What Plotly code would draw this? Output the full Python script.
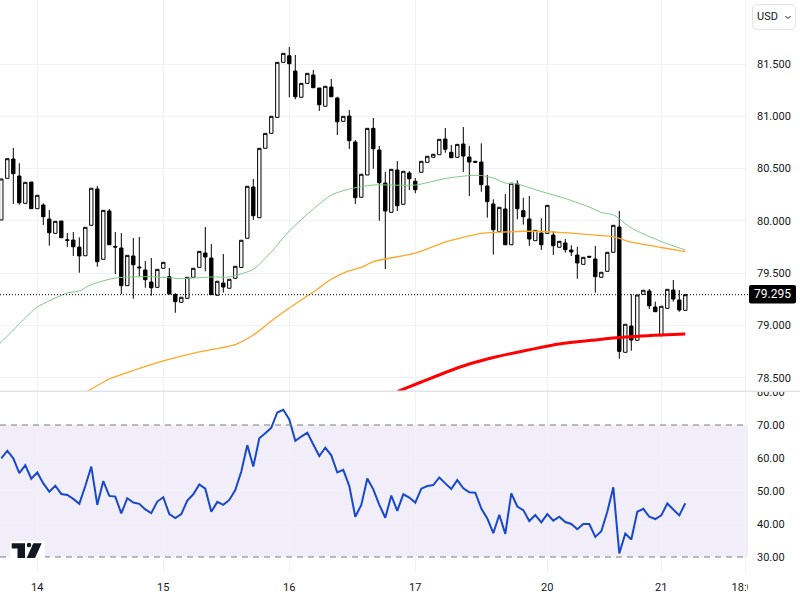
import plotly.graph_objects as go

candle_open = [80.009, 80.407, 80.592, 80.429, 80.168, 80.372, 80.117, 80.152, 80.018, 79.881, 79.999, 79.820,
               79.817, 79.750, 79.667, 79.958, 80.305, 79.633, 80.095, 79.756, 79.741, 79.381, 79.665, 79.560,
               79.531, 79.416, 79.365, 79.547, 79.467, 79.298, 79.222, 79.260, 79.461, 79.556, 79.693, 79.645,
               79.289, 79.406, 79.356, 79.451, 79.555, 79.834, 80.324, 80.031, 80.694, 80.837, 80.990, 81.516,
               81.579, 81.433, 81.182, 81.315, 81.395, 81.271, 81.096, 81.280, 81.175, 80.952, 81.003, 80.754,
               80.226, 80.439, 80.885, 80.678, 80.362, 80.082, 80.487, 80.159, 80.458, 80.379, 80.465, 80.560,
               80.608, 80.633, 80.783, 80.656, 80.608, 80.735, 80.611, 80.570, 80.563, 80.334, 80.162, 79.897,
               80.114, 79.772, 80.353, 80.098, 80.018, 79.811, 79.884, 79.881, 79.865, 79.748, 79.789, 79.722,
               79.674, 79.585, 79.662, 79.636, 79.461, 79.518, 79.700, 79.942, 78.744, 78.995, 78.859, 79.298,
               79.330, 79.177, 78.903, 79.164, 79.339, 79.244, 79.145]
candle_high = [80.401, 80.595, 80.697, 80.551, 80.369, 80.372, 80.245, 80.168, 80.104, 79.996, 79.999, 79.884,
               79.894, 79.843, 79.939, 80.312, 80.334, 80.101, 80.114, 79.894, 79.884, 79.671, 79.837, 79.846,
               79.617, 79.645, 79.537, 79.604, 79.550, 79.308, 79.270, 79.461, 79.547, 79.709, 79.942, 79.779,
               79.423, 79.684, 79.442, 79.566, 79.815, 80.331, 80.401, 80.694, 80.837, 81.000, 81.516, 81.602,
               81.663, 81.586, 81.315, 81.411, 81.443, 81.271, 81.287, 81.357, 81.187, 81.000, 81.060, 80.773,
               80.446, 80.885, 80.984, 80.716, 80.470, 80.493, 80.573, 80.474, 80.477, 80.410, 80.570, 80.618,
               80.637, 80.780, 80.888, 80.726, 80.732, 80.898, 80.716, 80.570, 80.742, 80.439, 80.207, 80.130,
               80.257, 80.360, 80.388, 80.222, 80.238, 79.910, 80.025, 80.149, 79.903, 79.805, 79.827, 79.767,
               79.753, 79.652, 79.662, 79.760, 79.509, 79.700, 79.958, 80.095, 79.012, 79.298, 79.292, 79.337,
               79.349, 79.228, 79.184, 79.346, 79.435, 79.339, 79.295]
candle_low = [80.009, 80.407, 80.162, 80.155, 80.168, 80.117, 80.117, 79.961, 79.763, 79.881, 79.839, 79.750,
              79.665, 79.505, 79.667, 79.958, 79.562, 79.633, 79.772, 79.492, 79.301, 79.381, 79.256, 79.467,
              79.361, 79.285, 79.365, 79.547, 79.301, 79.122, 79.222, 79.260, 79.461, 79.556, 79.518, 79.295,
              79.289, 79.314, 79.356, 79.451, 79.555, 79.834, 80.009, 80.031, 80.694, 80.837, 80.990, 81.516,
              81.182, 81.163, 81.182, 81.315, 81.273, 81.051, 81.096, 81.187, 80.821, 80.952, 80.687, 80.162,
              80.226, 80.439, 80.499, 80.002, 79.540, 80.082, 80.095, 80.159, 80.295, 80.264, 80.465, 80.560,
              80.608, 80.633, 80.652, 80.604, 80.608, 80.468, 80.238, 80.560, 80.279, 80.031, 79.677, 79.897,
              79.772, 79.772, 80.015, 79.964, 79.760, 79.811, 79.722, 79.881, 79.674, 79.748, 79.696, 79.665,
              79.447, 79.585, 79.654, 79.314, 79.461, 79.518, 79.700, 78.682, 78.744, 78.759, 78.859, 79.298,
              79.158, 79.132, 78.903, 79.164, 79.228, 79.132, 79.145]
candle_close = [80.401, 80.595, 80.451, 80.174, 80.369, 80.117, 80.245, 80.040, 79.887, 79.996, 79.839, 79.814,
                79.753, 79.665, 79.939, 80.312, 79.610, 80.101, 79.772, 79.750, 79.381, 79.671, 79.581, 79.552,
                79.438, 79.361, 79.537, 79.604, 79.301, 79.228, 79.270, 79.461, 79.547, 79.709, 79.655, 79.295,
                79.423, 79.368, 79.442, 79.566, 79.815, 80.331, 80.050, 80.694, 80.837, 81.000, 81.516, 81.602,
                81.503, 81.187, 81.315, 81.411, 81.273, 81.111, 81.287, 81.187, 80.948, 81.000, 80.767, 80.222,
                80.446, 80.885, 80.690, 80.365, 80.095, 80.493, 80.145, 80.474, 80.403, 80.298, 80.570, 80.618,
                80.637, 80.780, 80.685, 80.604, 80.732, 80.620, 80.563, 80.560, 80.346, 80.184, 79.916, 80.130,
                79.772, 80.360, 80.117, 80.040, 79.827, 79.910, 79.772, 80.149, 79.763, 79.805, 79.725, 79.703,
                79.598, 79.652, 79.654, 79.467, 79.509, 79.700, 79.958, 78.753, 79.012, 78.861, 79.292, 79.337,
                79.189, 79.132, 79.184, 79.346, 79.253, 79.148, 79.295]

green_idx = [-1, 0, 4, 6, 11, 13, 15, 19, 25, 30, 35, 38, 42, 45, 48, 52, 55, 58, 62, 69, 74, 78, 80, 82, 84, 86,
             90, 94, 98, 100, 102, 105, 108, 110, 114]
green_ma = [78.794, 78.842, 79.072, 79.177, 79.311, 79.330, 79.392, 79.454, 79.467, 79.449, 79.464, 79.464, 79.537,
            79.703, 79.903, 80.114, 80.248, 80.305, 80.343, 80.343, 80.405, 80.434, 80.434, 80.410, 80.362, 80.353,
            80.281, 80.214, 80.133, 80.080, 80.059, 79.932, 79.851, 79.803, 79.722]
orange_idx = [14, 15, 18, 22, 27, 33, 39, 42, 45, 48, 52, 55, 58, 60, 62, 69, 74, 78, 80, 84, 87, 93, 99, 102, 105,
              110, 114]
orange_ma = [78.36, 78.393, 78.489, 78.57, 78.661, 78.747, 78.818, 78.909, 79.043, 79.167, 79.320, 79.442, 79.524,
             79.555, 79.610, 79.693, 79.798, 79.856, 79.881, 79.894, 79.901, 79.891, 79.865, 79.849, 79.798, 79.746,
             79.706]
red_idx = [66, 70, 74, 78, 82, 87, 93, 99, 103, 110, 114]
red_ma = [78.369, 78.460, 78.551, 78.632, 78.694, 78.756, 78.823, 78.862, 78.885, 78.909, 78.919]

rsi = [59.9, 62.2, 59.9, 55.4, 57.8, 53.7, 55.6, 52.3, 49.8, 51.6, 49.1, 48.8, 47.6, 46.1, 51.5, 57.4, 45.8, 53.0,
       48.5, 48.3, 43.2, 47.8, 46.5, 46.1, 44.4, 43.3, 46.8, 48.1, 43.0, 41.8, 43.0, 47.1, 49.0, 52.0, 50.7, 43.7,
       46.7, 45.8, 47.3, 50.3, 55.9, 63.9, 57.4, 66.0, 67.5, 69.2, 73.8, 74.6, 71.7, 65.2, 66.5, 67.7, 64.1, 60.6,
       63.1, 60.8, 55.6, 56.4, 51.5, 42.2, 45.8, 53.8, 50.5, 45.8, 41.9, 48.6, 44.0, 49.0, 48.0, 46.5, 50.7, 51.5,
       51.8, 54.1, 52.3, 50.6, 53.3, 50.8, 49.6, 49.5, 44.7, 41.7, 37.2, 42.8, 37.0, 49.3, 45.3, 44.2, 40.9, 42.7,
       40.5, 43.0, 41.0, 42.2, 40.6, 40.0, 38.4, 40.0, 40.0, 36.1, 37.8, 43.7, 51.1, 31.1, 37.1, 35.3, 43.7, 44.6,
       42.2, 41.5, 42.6, 46.2, 44.4, 42.6, 46.3]

tick_idx = [6, 27, 48, 69, 91, 110, 124]
tick_text = ["14", "15", "16", "17", "20", "21", "18:00"]
price_ticks = [78.5, 79.0, 79.5, 80.0, 80.5, 81.0, 81.5]
rsi_ticks = [30, 40, 50, 60, 70, 80]
last_price = 79.295

WIDTH, HEIGHT = 800, 600
GRID = "#f1f2f5"
TEXT = "#131722"
FONT = "Roboto"
idx = list(range(len(candle_open)))


def px(x):
    return x / WIDTH


def py(y):
    return 1 - y / HEIGHT


def rrect(x0, y0, x1, y1, r):
    # rounded box in paper coords, given in screen pixels
    p = lambda x, y: f"{px(x)},{py(y)}"
    return (f"M {p(x0 + r, y0)} L {p(x1 - r, y0)} Q {p(x1, y0)} {p(x1, y0 + r)} L {p(x1, y1 - r)} "
            f"Q {p(x1, y1)} {p(x1 - r, y1)} L {p(x0 + r, y1)} Q {p(x0, y1)} {p(x0, y1 - r)} L {p(x0, y0 + r)} "
            f"Q {p(x0, y0)} {p(x0 + r, y0)} Z")


def poly(points):
    return "M " + " L ".join(f"{px(x)},{py(y)}" for x, y in points) + " Z"


def paper_shape(path, fill, line="rgba(0,0,0,0)", width=0):
    return dict(type="path", xref="paper", yref="paper", path=path, fillcolor=fill,
                line=dict(color=line, width=width), layer="above")


fig = go.Figure()

fig.add_trace(go.Scatter(x=green_idx, y=green_ma, mode="lines", xaxis="x", yaxis="y",
                         line=dict(color="#81c784", width=1, shape="spline", smoothing=0.6)))
fig.add_trace(go.Scatter(x=orange_idx, y=orange_ma, mode="lines", xaxis="x", yaxis="y",
                         line=dict(color="#ffa726", width=1.3, shape="spline", smoothing=0.6)))
fig.add_trace(go.Scatter(x=red_idx, y=red_ma, mode="lines", xaxis="x", yaxis="y",
                         line=dict(color="#ff0000", width=3, shape="spline", smoothing=0.6)))
fig.add_trace(go.Candlestick(x=idx, open=candle_open, high=candle_high, low=candle_low, close=candle_close,
                             increasing=dict(line=dict(color="#000000", width=1), fillcolor="#ffffff"),
                             decreasing=dict(line=dict(color="#000000", width=1), fillcolor="#000000"),
                             whiskerwidth=0, xaxis="x", yaxis="y"))
fig.add_trace(go.Scatter(x=idx, y=rsi, mode="lines", line=dict(color="#1848cc", width=2), xaxis="x2", yaxis="y2"))

shapes = [
    # rsi band and its bounds
    dict(type="rect", xref="x2 domain", yref="y2", x0=0, x1=1, y0=30, y1=70, fillcolor="rgba(126,87,194,0.1)",
         line=dict(width=0), layer="below"),
    dict(type="line", xref="x2 domain", yref="y2", x0=0, x1=1, y0=70, y1=70, line=dict(color="#787b86", width=1, dash="6px,5px")),
    dict(type="line", xref="x2 domain", yref="y2", x0=0, x1=1, y0=30, y1=30, line=dict(color="#787b86", width=1, dash="6px,5px")),
    # last price line
    dict(type="line", xref="x domain", yref="y", x0=0, x1=1, y0=last_price, y1=last_price,
         line=dict(color="#000000", width=1, dash="1px,2px")),
    # clip tick labels at the pane edges
    dict(type="rect", xref="paper", yref="paper", x0=px(748), x1=1, y0=py(391), y1=py(383.5), fillcolor="#ffffff",
         line=dict(width=0), layer="above"),
    dict(type="rect", xref="paper", yref="paper", x0=px(748), x1=px(770), y0=py(600), y1=py(574), fillcolor="#ffffff",
         line=dict(width=0), layer="above"),
    # separator
    dict(type="line", xref="paper", yref="paper", x0=0, x1=1, y0=py(391.3), y1=py(391.3), line=dict(color="#e0e3eb", width=1.5), layer="above"),
    # price tag
    paper_shape(rrect(749, 285, 796, 303.5, 2), "#000000"),
    # USD button
    paper_shape(rrect(752.5, 4.5, 795.5, 29.5, 5), "#ffffff", "#e0e3eb", 1),
    dict(type="path", xref="paper", yref="paper", layer="above", line=dict(color=TEXT, width=1),
         path=f"M {px(785.5)},{py(16)} L {px(788)},{py(18.5)} L {px(790.5)},{py(16)}"),
    # logo
    paper_shape(poly([(10, 541), (45, 541), (45, 558), (10, 558)]), "#ffffff"),
    paper_shape(poly([(11.7, 543.3), (25, 543.3), (25, 558), (17.5, 558), (17.5, 548.5), (11.7, 548.5)]), TEXT),
    paper_shape(poly([(33.3, 543.3), (41.7, 543.3), (35, 558), (26.7, 558)]), TEXT),
    dict(type="circle", xref="paper", yref="paper", x0=px(26.7), x1=px(31.3), y0=py(547.3), y1=py(542.7),
         fillcolor=TEXT, line=dict(width=0), layer="above"),
]

annotations = [
    dict(text=f"{last_price:.3f}", xref="paper", yref="paper", x=px(772.5), y=py(294.3), showarrow=False,
         font=dict(family=FONT, size=12, color="#ffffff"), xanchor="center", yanchor="middle"),
    dict(text="USD", xref="paper", yref="paper", x=px(767), y=py(17), showarrow=False,
         font=dict(family=FONT, size=11, color=TEXT), xanchor="center", yanchor="middle"),
]

fig.update_layout(
    width=WIDTH, height=HEIGHT, autosize=False,
    margin=dict(l=0, r=0, t=0, b=0),
    paper_bgcolor="#ffffff", plot_bgcolor="#ffffff",
    showlegend=False, hovermode=False, boxgap=0.2,
    font=dict(family=FONT, size=11, color=TEXT),
    shapes=shapes, annotations=annotations,
    xaxis=dict(domain=[0, 748 / WIDTH], range=[-0.217, 124.45], anchor="y", tickvals=tick_idx, showticklabels=False,
               showgrid=True, gridcolor=GRID, gridwidth=1, zeroline=False, rangeslider=dict(visible=False), ticks="",
               automargin=False),
    xaxis2=dict(domain=[0, 748 / WIDTH], range=[-0.217, 124.45], anchor="y2", tickvals=tick_idx, ticktext=tick_text,
                showgrid=True, gridcolor=GRID, gridwidth=1, zeroline=False, ticks="", ticklabelstandoff=7,
                automargin=False),
    yaxis=dict(domain=[py(391), 1], range=[78.374, 82.112], side="right", anchor="x", tickvals=price_ticks,
               tickformat=".3f", showgrid=True, gridcolor=GRID, zeroline=False, ticks="", ticklabelstandoff=8,
               automargin=False),
    yaxis2=dict(domain=[py(572), py(392)], range=[25.45, 80], side="right", anchor="x2", tickvals=rsi_ticks,
                tickformat=".2f", showgrid=True, gridcolor=GRID, zeroline=False, ticks="", ticklabelstandoff=8,
                automargin=False),
)

fig.write_html("out.html", config=dict(displayModeBar=False), post_script="document.body.style.margin='0';")
